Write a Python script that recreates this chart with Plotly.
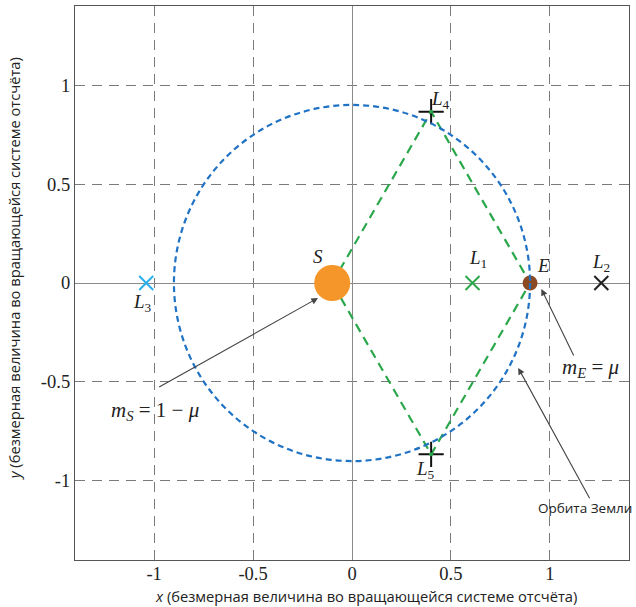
import plotly.graph_objects as go

# --- data ---
mu = 0.1
sun_xy = [-0.1, 0.0]
earth_xy = [0.9, 0.0]
orbit_radius = 0.9
L1_xy = [0.609, 0.0]
L2_xy = [1.26, 0.0]
L3_xy = [-1.04, 0.0]
L4_xy = [0.4, 0.866]
L5_xy = [0.4, -0.866]
tick_vals = [-1, -0.5, 0, 0.5, 1]
tick_text = ["-1", "-0.5", "0", "0.5", "1"]

SERIF = "Liberation Serif"
SANS = "Open Sans"

fig = go.Figure()

# triangle lines S-L4-E-L5-S
tri_x = [sun_xy[0], L4_xy[0], earth_xy[0], L5_xy[0], sun_xy[0]]
tri_y = [sun_xy[1], L4_xy[1], earth_xy[1], L5_xy[1], sun_xy[1]]
fig.add_trace(go.Scatter(x=tri_x, y=tri_y, mode="lines",
                         line=dict(color="#2aa74a", width=2.2, dash="9px,6px"),
                         hoverinfo="skip"))

# orbit circle
fig.add_shape(type="circle", xref="x", yref="y",
              x0=-orbit_radius, y0=-orbit_radius, x1=orbit_radius, y1=orbit_radius,
              line=dict(color="#1f72c4", width=2.2, dash="6px,4px"), layer="above")

# Sun
fig.add_trace(go.Scatter(x=[sun_xy[0]], y=[sun_xy[1]], mode="markers",
                         marker=dict(size=36, color="#F5962A", line=dict(width=0))))
# Earth
fig.add_trace(go.Scatter(x=[earth_xy[0]], y=[earth_xy[1]], mode="markers",
                         marker=dict(size=15, color="#8B4A22", line=dict(width=0))))
# L1, L2, L3 crosses
fig.add_trace(go.Scatter(x=[L1_xy[0]], y=[L1_xy[1]], mode="markers",
                         marker=dict(symbol="x-thin", size=14, line=dict(color="#2aa74a", width=2))))
fig.add_trace(go.Scatter(x=[L2_xy[0]], y=[L2_xy[1]], mode="markers",
                         marker=dict(symbol="x-thin", size=14, line=dict(color="#222222", width=2))))
fig.add_trace(go.Scatter(x=[L3_xy[0]], y=[L3_xy[1]], mode="markers",
                         marker=dict(symbol="x-thin", size=14, line=dict(color="#2ab0ea", width=2))))
# L4, L5 plus
fig.add_trace(go.Scatter(x=[L4_xy[0], L5_xy[0]], y=[L4_xy[1], L5_xy[1]], mode="markers",
                         marker=dict(symbol="cross-thin", size=18, line=dict(color="#111111", width=2))))
fig.add_trace(go.Scatter(x=[L4_xy[0], L5_xy[0]], y=[L4_xy[1], L5_xy[1]], mode="markers",
                         marker=dict(size=4, color="#2aa74a")))


def label(x, y, text, size=19, **kw):
    fig.add_annotation(x=x, y=y, text=text, showarrow=False,
                       font=dict(family=SERIF, size=size, color="#222222"), **kw)

label(0.446, 0.924, "<i>L</i><sub>4</sub>")
label(0.638, 0.121, "<i>L</i><sub>1</sub>")
label(1.26, 0.10, "<i>L</i><sub>2</sub>")
label(-1.058, -0.10, "<i>L</i><sub>3</sub>")
label(0.37, -0.944, "<i>L</i><sub>5</sub>")
label(0.97, 0.09, "<i>E</i>")
label(-0.172, 0.135, "<i>S</i>")
label(-0.997, -0.646, "<i>m</i><sub><i>S</i></sub> = 1 − <i>μ</i>", size=21)
label(1.205, -0.43, "<i>m</i><sub><i>E</i></sub> = <i>μ</i>", size=21)
fig.add_annotation(x=0.93, y=-1.136, text="Орбита Земли", showarrow=False,
                   xanchor="left", font=dict(family=SANS, size=13.5, color="#222222"))

def arrow(tx, ty, hx, hy):
    fig.add_annotation(x=hx, y=hy, ax=tx, ay=ty, xref="x", yref="y",
                       axref="x", ayref="y", text="", showarrow=True,
                       arrowhead=2, arrowsize=1.2, arrowwidth=1.1, arrowcolor="#444444")

arrow(-0.982, -0.53, -0.172, -0.076)
arrow(1.124, -0.374, 0.957, -0.03)
arrow(1.205, -1.096, 0.84, -0.429)

# axis titles
title_font = dict(family=SANS, size=14.7, color="#222222")
fig.add_annotation(xref="paper", yref="paper", x=0.525, y=-0.0650,
                   text="<i>x</i> (безмерная величина во вращающейся системе отсчёта)",
                   showarrow=False, font=title_font, xanchor="center", yanchor="middle")
fig.add_annotation(xref="paper", yref="paper", x=-0.110, y=0.525,
                   text="<i>y</i> (безмерная величина во вращающейся системе отсчёта)",
                   showarrow=False, font=title_font, textangle=-90,
                   xanchor="center", yanchor="middle")

axis_common = dict(
    tickvals=tick_vals, ticktext=tick_text, range=[-1.4, 1.4],
    showgrid=True, gridcolor="#7a7a7a", gridwidth=1.2, griddash="10px,7px",
    zeroline=True, zerolinecolor="#8a8a8a", zerolinewidth=1.3,
    showline=True, linecolor="#555555", linewidth=1.3, mirror=True,
    ticks="", tickfont=dict(family=SERIF, size=18.5, color="#222222"),
)

fig.update_xaxes(**axis_common, ticklabelstandoff=-3)
fig.update_yaxes(**axis_common)

fig.update_layout(width=636, height=607, showlegend=False,
                  margin=dict(l=75, r=7, t=6, b=47),
                  plot_bgcolor="white", paper_bgcolor="white")

fig.write_html("out.html")
